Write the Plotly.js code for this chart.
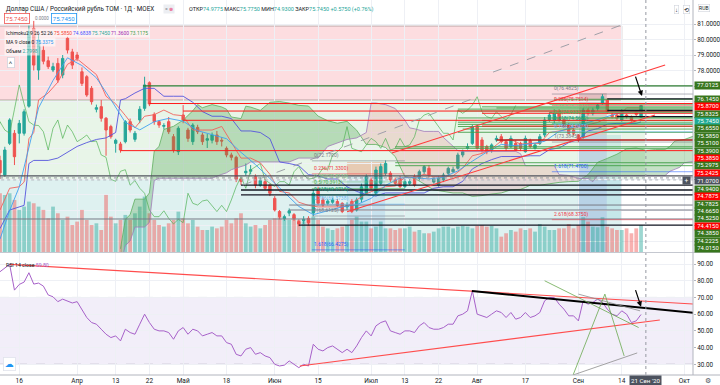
<!DOCTYPE html>
<html><head><meta charset="utf-8">
<script src="https://cdn.plot.ly/plotly-3.0.1.min.js"></script>
<style>html,body{margin:0;padding:0;background:#fff}#chart{width:720px;height:385px}</style>
</head><body><div id="chart"></div>
<script>
// ---------- DATA ----------
const openP = [72.2,71.26,73.30,73.95,73.95,73.95,75.70,80.72,78.03,79.30,
78.63,78.03,78.46,77.71,80.08,79.20,79.00,77.92,77.60,76.85,
75.50,75.67,74.92,74.38,73.30,73.26,73.41,74.70,73.56,74.81,
75.56,77.21,75.17,74.70,74.40,74.70,73.73,72.76,75.13,74.16,
73.41,74.33,73.84,73.50,73.50,73.84,73.50,72.98,72.55,72.40,
71.00,71.40,71.50,71.15,70.60,70.83,70.62,69.75,68.90,68.42,
68.80,68.70,68.25,68.30,68.46,68.80,70.33,69.65,69.43,69.50,
69.55,69.43,69.20,69.55,69.00,69.70,70.08,70.94,70.08,70.72,
71.37,71.37,70.94,71.04,70.51,70.72,71.15,71.04,71.47,71.69,
70.80,70.60,70.94,71.37,71.47,71.69,72.55,72.98,73.30,74.38,
73.52,73.09,72.87,73.52,73.73,73.41,73.09,73.30,73.30,72.76,
73.47,72.98,73.30,73.84,74.81,74.81,75.34,74.81,74.50,74.16,
73.84,73.73,75.45,75.24,75.56,75.88,76.10,75.13,75.13,74.81,
75.13,75.02,75.35,74.9775];
const highP = [72.5,73.08,74.92,74.16,74.81,75.50,80.90,81.20,80.30,79.60,
78.90,78.50,78.80,79.00,80.18,79.40,79.20,78.20,77.70,77.00,
75.80,76.10,75.00,74.50,73.60,73.40,74.80,74.90,74.10,75.70,
77.60,77.30,75.30,74.80,74.60,75.00,73.90,74.40,75.77,74.30,
74.60,74.50,74.00,73.90,74.00,74.10,73.70,73.10,72.70,72.50,
71.10,72.00,71.90,71.30,71.10,71.00,70.70,69.90,69.00,68.70,
69.10,68.80,68.40,68.60,68.60,70.30,70.50,69.80,69.70,69.80,
69.70,69.50,69.50,69.70,69.80,70.70,71.30,71.10,71.80,72.00,
72.20,71.50,71.10,71.20,71.00,71.00,71.30,71.60,71.90,71.90,
71.10,71.20,71.40,71.80,71.80,72.70,72.90,73.30,74.50,74.50,
73.70,73.20,73.30,73.80,73.90,73.50,73.80,73.50,73.40,73.80,
73.60,73.30,73.90,75.00,75.30,75.50,75.50,74.90,74.60,74.30,
73.90,75.60,75.60,75.60,75.90,76.48,76.20,75.30,75.20,75.50,
75.20,75.10,75.45,75.775];
const lowP = [71.0,71.15,73.19,71.90,73.30,73.80,75.60,78.00,77.40,78.40,
78.10,77.90,77.20,77.50,79.10,78.10,78.60,77.00,76.30,75.80,
75.30,74.70,72.50,73.60,72.70,72.70,73.30,74.00,73.40,74.60,
75.40,75.70,74.50,74.30,74.20,73.90,72.70,72.55,74.60,73.40,
73.20,73.90,73.20,73.00,73.30,73.20,73.10,72.40,72.20,70.80,
70.60,71.20,71.30,70.40,70.50,70.30,69.90,68.90,68.40,68.30,
68.60,68.30,67.95,68.10,68.00,68.60,69.30,69.20,69.30,69.40,
69.20,68.80,69.00,68.80,68.90,69.50,70.00,70.30,70.00,70.60,
71.20,70.80,70.60,70.40,70.40,70.60,70.50,70.90,71.30,71.10,
70.70,70.50,70.80,71.20,71.40,71.60,72.40,72.90,73.20,72.90,
72.70,72.60,72.70,73.40,73.30,72.80,73.00,72.80,72.80,72.70,
73.00,72.90,73.20,73.70,74.70,74.60,74.70,74.30,73.90,73.80,
73.38,73.60,75.10,75.10,75.40,75.80,75.20,74.90,74.80,74.70,
74.90,74.70,75.05,74.93];
const closeP = [71.4,72.87,74.81,72.44,74.59,75.34,80.50,78.35,79.97,78.60,
78.25,78.25,77.39,78.78,79.32,78.35,78.78,77.17,76.42,75.99,
75.60,74.92,74.16,73.73,73.50,72.87,74.70,74.16,73.95,75.50,
77.07,75.84,74.70,74.48,74.45,74.05,72.87,74.27,74.81,73.62,
74.48,74.05,73.41,73.60,73.84,73.41,73.45,72.55,72.40,70.98,
70.85,71.50,71.60,70.60,70.90,70.40,70.08,69.00,68.57,68.57,
68.95,68.46,68.10,68.40,68.18,70.08,69.43,69.32,69.58,69.65,
69.30,68.90,69.30,68.90,69.65,70.50,71.15,70.40,71.58,71.80,
72.00,70.94,70.72,70.51,70.83,70.83,70.61,71.47,71.80,71.26,
71.00,71.04,71.26,71.69,71.62,72.55,72.76,73.09,74.38,72.98,
72.87,72.76,73.20,73.62,73.41,72.98,73.62,72.87,72.98,73.62,
73.09,73.20,73.73,74.81,75.13,75.24,74.81,74.38,73.95,73.95,
73.52,75.45,75.24,75.45,75.77,76.31,75.34,75.02,74.92,75.34,
75.02,74.81,75.17,75.745];
const volumeB = [6.08,5.91,6.08,5.39,4.36,4.70,5.22,5.05,4.70,4.36,
3.49,4.70,4.01,3.32,3.66,2.80,3.15,4.36,3.32,2.80,
2.97,2.28,5.91,3.66,2.97,3.32,3.84,3.32,4.01,4.70,
5.74,4.01,3.32,2.80,2.63,2.97,3.32,4.18,3.49,2.97,
3.32,2.63,2.28,2.28,2.63,2.45,2.63,3.32,2.97,3.49,
4.01,2.97,2.63,2.80,2.45,2.80,3.32,3.49,3.66,3.32,
3.32,3.66,3.32,3.15,3.32,3.66,3.32,2.63,2.45,2.28,
2.45,2.63,2.80,3.32,3.66,3.15,3.15,2.45,2.63,3.15,
2.45,2.45,2.28,2.45,2.45,2.63,2.11,2.28,1.94,1.94,
2.11,2.45,2.63,2.63,2.45,2.63,2.70,2.63,2.45,2.70,
2.80,2.63,2.70,2.45,1.59,1.94,2.28,2.11,2.45,2.28,
2.45,2.11,2.90,2.63,2.28,2.28,2.45,2.45,2.90,2.45,
2.80,3.60,3.15,2.63,2.56,3.60,2.63,2.45,2.28,2.28,
2.45,1.94,2.45,2.80];
const rsi14 = [85.4,87.6,89.8,74.4,77.8,79.2,84.8,78.0,78.6,76.8,
71.5,70.4,67.5,69.0,68.0,66.7,67.5,62.5,58.0,55.0,
54.0,51.0,48.0,46.0,47.0,44.0,51.0,49.0,48.0,54.0,
60.0,55.0,51.0,50.0,50.0,49.0,45.0,50.0,52.0,48.0,
51.0,50.0,47.0,48.0,49.0,47.0,47.0,43.0,42.0,36.0,
35.0,39.0,40.0,36.0,37.0,35.0,34.0,30.0,29.0,29.5,
32.0,30.0,28.0,30.0,29.0,42.0,39.0,38.0,40.0,41.0,
39.0,37.0,39.0,37.0,41.0,46.0,50.0,47.0,53.0,55.0,
56.0,50.0,49.0,48.0,50.0,50.0,49.0,53.0,55.0,52.0,
51.0,51.0,52.0,54.0,54.0,59.0,60.0,62.0,74.0,60.0,
59.0,58.0,60.0,62.0,61.0,58.0,61.0,57.0,58.0,61.0,
58.0,59.0,61.0,68.0,70.0,70.0,66.0,63.0,59.0,59.0,
56.0,68.0,66.0,67.0,69.0,67.0,63.0,60.0,59.0,62.0,
60.0,55.0,56.0,59.8];

// Ichimoku / MA lines read at sample bars
const tenkanX = [0,2,4,5,6,7,8,10,12,14,16,18,20,22,24,26,28,30,32,34,36,38,40,42,44,46,48,50,52,54,56,58,60,62,64,66,68,70,72,74,76,78,80,82,84,86,88,90,92,94,96,98,100,102,104,106,108,110,112,114,116,118,120,122,124,126,128,130,132,133];
const tenkanY = [69.0,70.4,70.5,70.8,73.6,74.0,76.1,76.55,77.25,78.4,78.75,78.24,77.74,76.34,75.85,75.1,74.3,75.05,75.15,75.45,75.15,75.08,74.16,74.16,74.16,74.39,73.4,72.35,72.35,72.05,71.3,70.2,70.1,69.5,69.3,69.2,69.2,69.2,69.25,69.65,70.05,70.3,70.5,70.55,71.1,71.1,71.3,71.15,71.15,71.2,71.7,72.5,72.65,72.95,73.45,73.55,73.25,73.3,73.3,74.0,74.1,74.2,74.35,74.5,74.65,74.95,74.95,75.59,75.59,75.585];
const kijunX = [0,2,5,6,7,10,12,16,18,20,22,24,25,26,28,30,32,34,36,38,40,42,44,46,48,50,52,54,56,58,60,62,64,66,68,70,72,74,76,78,80,82,84,86,88,90,92,94,96,98,100,102,104,106,108,110,112,114,116,118,120,122,124,126,128,130,132,133];
const kijunY = [67.8,69.0,69.3,72.0,72.2,72.2,72.35,73.1,73.35,73.55,73.65,74.0,76.1,76.18,76.55,76.85,76.85,76.34,76.34,76.34,75.95,75.35,75.05,75.05,74.9,74.1,74.1,74.0,73.6,72.1,72.0,71.86,71.28,71.2,71.0,71.0,70.5,70.2,70.0,69.9,70.1,70.1,70.1,70.1,70.1,70.4,70.5,70.5,70.85,71.65,72.0,72.25,72.45,72.45,72.45,72.5,72.5,72.9,73.0,73.35,73.55,74.1,74.25,74.54,74.59,74.59,74.59,74.68];
const ma9X = [0,2,4,6,8,11,14,17,20,23,26,29,32,35,38,41,44,47,50,53,56,59,62,65,68,71,74,77,80,83,86,89,92,95,98,101,104,107,110,113,116,119,122,125,128,131,133];
const ma9Y = [67.12,68.96,70.49,73.06,75.59,77.36,78.82,78.32,77.53,76.12,74.65,74.17,74.70,74.91,74.73,74.12,73.88,73.60,72.72,71.93,71.03,70.14,69.23,68.70,68.94,69.20,69.34,69.75,70.59,71.07,71.09,71.00,71.12,71.52,72.15,72.74,73.23,73.15,73.27,73.43,74.07,74.36,74.63,74.89,75.22,75.33,75.34];
const spanX = [25,26,27,28,30,31,32,33,34,36,38,40,41,42,44,46,47,48,50,51,52,54,56,58,60,62,64,66,68,70,72,74,76,77,78,80,82,84,85,86,88,90,91,92,94,95,96,98,100,102,104,106,107,108,109,110,112,114,115,116,118,120,122,123,124,126,128,130,132,134,136,138,139,140,141,142,144];
const spanA = [66.5,68.4,68.7,69.7,69.7,70.1,72.8,73.1,74.2,74.4,74.8,75.4,75.8,75.6,75.8,75.65,75.5,75.0,74.9,75.7,75.64,75.43,75.95,76.0,75.9,75.75,75.71,75.06,74.76,74.6,74.72,74.15,73.23,73.23,73.23,73.03,72.45,71.15,71.1,71.05,70.68,70.29,70.25,70.2,70.1,70.1,70.1,69.88,69.93,70.03,70.1,70.3,70.3,70.33,70.45,70.6,70.6,70.7,70.75,70.78,70.83,70.85,71.28,71.7,72.08,72.33,72.6,72.95,73.0,72.85,72.9,72.9,73.1,73.45,73.5,73.55,73.78];
const spanB = [65.5,66.7,67.0,67.9,67.9,68.2,70.9,71.05,71.05,71.05,71.05,71.05,71.05,71.05,71.05,71.3,71.4,71.6,71.8,71.9,72.1,72.1,72.1,72.1,72.1,72.35,72.35,72.35,73.1,73.35,73.55,73.65,74.0,75.9,75.9,75.8,75.55,74.8,74.3,74.24,74.07,74.07,74.07,73.68,73.08,72.83,72.78,72.78,72.78,72.78,72.78,72.78,72.78,72.63,71.86,71.86,71.86,71.86,71.86,71.28,71.23,71.03,71.03,70.83,71.23,71.23,71.23,71.23,71.23,71.23,71.23,71.23,71.5,71.65,71.75,72.05,72.15];
const chikouShift = 26;

// time axis
const tickIdx = [4,16,24,31,38,47,57,66,77,84,91,99,109,120,129,142];
const tickLabels = ['16','Апр','13','22','Май','18','Июн','15','Июл','13','22','Авг','17','Сен','14','Окт'];
const crossIdx = 134, crossLabel = "21 Сен '20", crossPrice = 71.07;

// price / rsi scales
const priceTicks = [67,68,69,70,71,72,73,74,75,76,77,78,79,80,81];
const rsiTicks = [30,40,50,60,70,80,90];

// drawings: horizontal rays (price, start bar)
const greenRayP = [77.0125,76.145,75.8325,75.655,75.585,75.51,75.39,75.2975,74.94,74.7825,74.665,74.525,74.385,74.2225,74.015,73.08,72.98,72.05,71.86];
const greenRayX = [29.7,115,114,100,103,95,95,114,95,100,95,95,95,96,95,82,82,82,82];
const redRayP = [75.87,75.385,75.2425,74.7875,74.415,72.83];
const redRayX = [31,38,100,38,100,25];
const blackRayP = [76.17,75.42,75.02,70.61,70.29,69.97,68.03];
const blackRayX = [126,126,128,50,50,50,62];
const grayRayP = [71.2,69.32,69.0,68.42];
const grayRayX = [-1,60,60,-1];
const darkRedRayP = [73.52], darkRedRayX = [103];

// Fibonacci retracements
const fibLevels = ['0','0.236','0.382','0.5','0.618','0.786','1','1.618','2.618'];
const fibLeftP = [72.17,71.33,70.811,70.3913,69.9715,69.3738,68.6125,66.4275];
const fibRightP = [76.4825,75.7514,75.2991,74.9337,74.5682,74.0478,73.3845,71.47,68.375];
const fibLeftStart = 64.7, fibLeftEnd = 84, fibRightStart = 114.5;

// trend lines [x0,p0,x1,p1]
const trendRed = [[81.3,72.68,138,78.35],[72,68.89,135.9,75.13]];
const trendDash = [[50.4,70.61,98.5,76.23],[102.3,77.9,129,80.94]];
const rsiRed = [[2.07,89.8,143.8,66.1],[62.2,29.0,136.9,56.5]];
const rsiBlack = [[97.9,73.9,143.8,60.9]];
const rsiFan = [[113,80,132.5,52],[120,72,132.8,62],[118.9,23.6,125.5,72],[118.9,23.6,132.2,36.8],[125.5,72,129.5,35]];

// zones [x0,x1,p0,p1]
const zones = [[-1,129,76.1,80.87],[-1,133.8,70.94,76.1],[-1,129,66.0,70.94],[72,79.9,71.2,72.1],[72,79.9,66.0,71.2],[119.9,125.9,73.84,76.55],[119.9,125.9,66.0,73.84],[125.9,129,68.35,73.84]];

// right-side price labels
const rightLabels = ['77.0125','76.1450','75.8700','75.8325','75.7450','75.6550','75.5850','75.5100','75.3900','75.3850','75.2975','75.2425','74.9400','74.7875','74.7825','74.6650','74.5250','74.4150','74.3850','74.2225','74.0150'];
const rightKinds = ['g','g','r','g','c','g','g','g','g','r','g','r','g','r','g','g','g','r','g','g','g'];

// ---------- STYLE ----------
const FONT = 'Roboto, "Liberation Sans", "DejaVu Sans", sans-serif';
const GRID = '#eef0f5';
const UP = '#26a69a', DN = '#ef5350';
const zoneFill = ['rgba(242,54,69,0.17)','rgba(76,175,80,0.13)','rgba(0,150,136,0.13)','rgba(230,140,100,0.40)','rgba(90,150,230,0.16)','rgba(160,110,110,0.28)','rgba(70,120,200,0.25)','rgba(70,180,200,0.16)'];
const fibColors = ['#787b86','#f23645','#81c784','#4caf50','#089981','#64b5f6','#787b86','#2962ff','#f23645'];
const labelColors = {g:'#38761d', r:'#ff0000', c:'#22ab94'};

const idx = closeP.map((_, i) => i);
const PW = 693, PH = 375;
const pxX = x => x / PW, pxY = y => 1 - y / PH;
const yRange = [66.29, 82.55];
const priceToPx = p => (yRange[1] - p) / (yRange[1] - yRange[0]) * 252;

const traces = [];
traces.push({type:'bar', x: idx, y: volumeB, xaxis:'x', yaxis:'y', width:0.78,
  marker:{color: idx.map(i => closeP[i] >= openP[i] ? 'rgba(38,166,154,0.45)' : 'rgba(239,83,80,0.45)'), line:{width:0}},
  hoverinfo:'skip'});

function cloudPolys(xs, a, b) {
  const out = []; let cur = null, sign = null;
  for (let k = 0; k < xs.length; k++) {
    const s = a[k] >= b[k] ? 1 : -1;
    if (cur && s !== sign) {
      const d0 = a[k-1]-b[k-1], d1 = a[k]-b[k];
      const t = d0/(d0-d1);
      const xc = xs[k-1] + t*(xs[k]-xs[k-1]);
      const yc = a[k-1] + t*(a[k]-a[k-1]);
      cur.x.push(xc); cur.a.push(yc); cur.b.push(yc);
      out.push({sign, x:cur.x, a:cur.a, b:cur.b});
      cur = {x:[xc], a:[yc], b:[yc]};
    }
    if (!cur) cur = {x:[], a:[], b:[]};
    cur.x.push(xs[k]); cur.a.push(a[k]); cur.b.push(b[k]);
    sign = s;
  }
  out.push({sign, x:cur.x, a:cur.a, b:cur.b});
  return out;
}
cloudPolys(spanX, spanA, spanB).forEach(pl => {
  traces.push({type:'scatter', mode:'lines', xaxis:'x', yaxis:'y3',
    x: pl.x.concat(pl.x.slice().reverse()), y: pl.a.concat(pl.b.slice().reverse()),
    fill:'toself', fillcolor: pl.sign > 0 ? 'rgba(67,160,71,0.30)' : 'rgba(239,83,80,0.16)',
    line:{width:0}, hoverinfo:'skip'});
});

traces.push({type:'candlestick', x: idx, open: openP, high: highP, low: lowP, close: closeP,
  xaxis:'x', yaxis:'y3', whiskerwidth:0,
  increasing:{line:{color:UP, width:1}, fillcolor:UP},
  decreasing:{line:{color:DN, width:1}, fillcolor:DN}, hoverinfo:'skip'});

traces.push({type:'scatter', mode:'lines', xaxis:'x', yaxis:'y3', x: idx.map(i => i - chikouShift), y: closeP, line:{color:'#4caf50', width:0.8}, opacity:0.85, hoverinfo:'skip'});
traces.push({type:'scatter', mode:'lines', xaxis:'x', yaxis:'y3', x: spanX, y: spanA, line:{color:'#5fae5f', width:0.8}, hoverinfo:'skip'});
traces.push({type:'scatter', mode:'lines', xaxis:'x', yaxis:'y3', x: spanX, y: spanB, line:{color:'#a17bb9', width:0.8}, hoverinfo:'skip'});
traces.push({type:'scatter', mode:'lines', xaxis:'x', yaxis:'y3', x: tenkanX, y: tenkanY, line:{color:'#f0625d', width:0.9}, hoverinfo:'skip'});
traces.push({type:'scatter', mode:'lines', xaxis:'x', yaxis:'y3', x: kijunX, y: kijunY, line:{color:'#5555dd', width:0.9}, hoverinfo:'skip'});
traces.push({type:'scatter', mode:'lines', xaxis:'x', yaxis:'y3', x: ma9X, y: ma9Y, line:{color:'#3fa0f0', width:0.9}, hoverinfo:'skip'});

traces.push({type:'scatter', mode:'lines', xaxis:'x2', yaxis:'y2', x: idx, y: rsi14, line:{color:'#a761c9', width:1}, hoverinfo:'skip'});

// ---------- SHAPES ----------
const shapes = [];
zones.forEach((z, k) => shapes.push({type:'rect', xref:'x', yref:'y3', x0:z[0], x1:z[1], y0:z[2], y1:z[3],
  fillcolor: zoneFill[k], line:{width: k === 0 ? 1 : 0, color:'rgba(150,130,130,0.6)'}, layer:'below'}));
shapes.push({type:'rect', xref:'paper', yref:'y2', x0:0, x1:1, y0:30, y1:70, fillcolor:'rgba(126,87,194,0.10)', line:{width:0}, layer:'below'});
[70,30].forEach(v => shapes.push({type:'line', xref:'paper', yref:'y2', x0:0, x1:1, y0:v, y1:v, line:{color:'#9598a1', width:0.8, dash:'dash'}, layer:'below'}));

function ray(p, x0, color, width, dash) {
  shapes.push({type:'line', xref:'x', yref:'y3', x0:x0, x1:150, y0:p, y1:p, line:{color, width, dash: dash || 'solid'}, layer:'above'});
}
grayRayP.forEach((p, k) => ray(p, grayRayX[k], k === 0 ? '#50535e' : '#787b86', k === 0 ? 1.3 : 1));
ray(70.94, -1, '#b2b5be', 1, 'dot');
greenRayP.forEach((p, k) => ray(p, greenRayX[k], k === 0 ? '#2e7d32' : '#43a047', k === 0 ? 1.3 : 0.9));
redRayP.forEach((p, k) => ray(p, redRayX[k], '#ff1a1a', 1));
blackRayP.forEach((p, k) => ray(p, blackRayX[k], '#131722', 1.3));
darkRedRayP.forEach((p, k) => ray(p, darkRedRayX[k], '#b71c1c', 1.6));
fibLeftP.forEach((p, k) => shapes.push({type:'line', xref:'x', yref:'y3', x0:fibLeftStart, x1:fibLeftEnd, y0:p, y1:p, line:{color:fibColors[k], width:0.8}, opacity:0.7, layer:'above'}));
fibRightP.forEach((p, k) => shapes.push({type:'line', xref:'x', yref:'y3', x0:fibRightStart, x1:150, y0:p, y1:p, line:{color:fibColors[k], width:0.8}, opacity:0.7, layer:'above'}));

trendRed.forEach(t => shapes.push({type:'line', xref:'x', yref:'y3', x0:t[0], y0:t[1], x1:t[2], y1:t[3], line:{color:'#ff3b3b', width:1.1}, layer:'above'}));
trendDash.forEach(t => shapes.push({type:'line', xref:'x', yref:'y3', x0:t[0], y0:t[1], x1:t[2], y1:t[3], line:{color:'#9598a1', width:0.9, dash:'dash'}, layer:'above'}));
rsiRed.forEach(t => shapes.push({type:'line', xref:'x2', yref:'y2', x0:t[0], y0:t[1], x1:t[2], y1:t[3], line:{color:'#ff4d4d', width:1.1}, layer:'above'}));
rsiBlack.forEach(t => shapes.push({type:'line', xref:'x2', yref:'y2', x0:t[0], y0:t[1], x1:t[2], y1:t[3], line:{color:'#000000', width:2}, layer:'above'}));
rsiFan.forEach((t, k) => shapes.push({type:'line', xref:'x2', yref:'y2', x0:t[0], y0:t[1], x1:t[2], y1:t[3], line:{color: k % 2 ? '#8d8d8d' : '#6aa84f', width:0.8}, layer:'above'}));

shapes.push({type:'line', xref:'x', yref:'paper', x0:crossIdx, x1:crossIdx, y0:0, y1:1, line:{color:'#9598a1', width:1, dash:'dot'}, layer:'above'});
shapes.push({type:'line', xref:'paper', yref:'y3', x0:0, x1:1, y0:crossPrice, y1:crossPrice, line:{color:'#9598a1', width:1, dash:'dot'}, layer:'above'});
shapes.push({type:'line', xref:'paper', yref:'paper', x0:0, x1:720/PW, y0:pxY(252.5), y1:pxY(252.5), line:{color:'#c5c8d0', width:1}});
shapes.push({type:'line', xref:'paper', yref:'paper', x0:1, x1:1, y0:0, y1:1, line:{color:'#b2b5be', width:1}});
shapes.push({type:'line', xref:'paper', yref:'paper', x0:0, x1:720/PW, y0:0, y1:0, line:{color:'#b2b5be', width:1}});

// ---------- ANNOTATIONS ----------
const ann = [];
function txt(x, y, text, size, color, extra) {
  ann.push(Object.assign({xref:'paper', yref:'paper', x:pxX(x), y:pxY(y), text, showarrow:false,
    xanchor:'left', yanchor:'middle', font:{family:FONT, size, color: color || '#131722'}}, extra || {}));
}
const c = (col, s) => `<span style="color:${col}">${s}</span>`;
txt(4, 9, 'Доллар США / Российский рубль TOM · 1Д · MOEX', 6.3);
txt(163, 9, c('#787b86','=') + ' ' + c('#e91e63','⊗'), 5, '#131722', {bgcolor:'#eceef2', borderpad:1});
txt(187, 9, 'ОТКР' + c(UP,'74.9775') + ' МАКС' + c(UP,'75.7750') + ' МИН' + c(UP,'74.9300') + ' ЗАКР' + c(UP,'75.7450') + ' ' + c(UP,'+0.5750 (+0.76%)'), 5.5);
txt(4, 18.5, '75.7450', 6, '#ef5350', {bgcolor:'#ffffff', bordercolor:'#ef5350', borderwidth:0.8, borderpad:1});
txt(33, 18.5, '0.0000', 4.5, '#787b86');
txt(51, 18.5, '75.7450', 6, '#2196f3', {bgcolor:'#ffffff', bordercolor:'#2196f3', borderwidth:0.8, borderpad:1});
txt(4, 32.5, 'Ichimoku2 9 26 52 26 ' + c('#f44336','75.5850') + ' ' + c('#3f51ff','74.6838') + ' ' + c('#26a69a','75.7450') + ' ' + c('#9c27b0','71.3600') + ' ' + c('#43a047','73.1175'), 4.9, '#131722', {bgcolor:'rgba(255,255,255,0.55)'});
txt(4, 42, 'MA 9 close 0 ' + c('#2196f3','75.3375'), 4.9, '#131722', {bgcolor:'rgba(255,255,255,0.55)'});
txt(4, 51.5, 'Объем ' + c(UP,'2.7998'), 4.9, '#131722', {bgcolor:'rgba(255,255,255,0.55)'});
txt(7, 62.5, '˄', 6, '#131722', {bgcolor:'#ffffff', bordercolor:'#d1d4dc', borderwidth:0.8, borderpad:1});
txt(4, 265, 'RSI 14 close ' + c('#a761c9','59.80'), 5.2);
txt(674, 9, '↓', 6, '#131722', {bgcolor:'#ffffff', bordercolor:'#d1d4dc', borderwidth:0.6, borderpad:0.5});
txt(683, 9, '⟲', 6, '#131722', {bgcolor:'#ffffff', bordercolor:'#d1d4dc', borderwidth:0.6, borderpad:0.5});
txt(698, 8, 'RUB', 5, '#131722', {bgcolor:'#ffffff', bordercolor:'#d1d4dc', borderwidth:0.6, borderpad:0.5});
txt(3, 364, '☁', 9, '#2196f3', {bgcolor:'#ffffff', bordercolor:'#e0e3eb', borderwidth:0.8, borderpad:1});
txt(703, 380.5, '⚙', 7, '#50535e');

fibLeftP.forEach((p, k) => ann.push({xref:'x', yref:'y3', x:fibLeftStart, y:p, xanchor:'left', yanchor:'bottom', showarrow:false,
  text:`${fibLevels[k]}(${p.toFixed(4)})`, font:{family:FONT, size:5, color:fibColors[k]}}));
fibRightP.forEach((p, k) => ann.push({xref:'x', yref:'y3', x:fibRightStart, y:p, xanchor:'left', yanchor:'bottom', showarrow:false,
  text:`${fibLevels[k]}(${p.toFixed(4)})`, font:{family:FONT, size:5, color:fibColors[k]}}));

ann.push({xref:'x', yref:'y3', x:133.2, y:76.35, ax:-7, ay:-21, showarrow:true, arrowhead:2, arrowsize:0.9, arrowwidth:1.2, arrowcolor:'#000', text:''});
ann.push({xref:'x2', yref:'y2', x:133.0, y:64.5, ax:-6, ay:-18, showarrow:true, arrowhead:2, arrowsize:0.9, arrowwidth:1.2, arrowcolor:'#000', text:''});

// right price labels, stacked like the price scale does
const crossY = priceToPx(crossPrice) + 3;
let prev = -99;
rightLabels.forEach((t, k) => {
  let y = Math.max(priceToPx(parseFloat(t)), prev + 7.4);
  if (k === 12) y = crossY + 8.4;
  prev = y;
  ann.push({xref:'paper', yref:'paper', x:1.001, y:pxY(y), xanchor:'left', yanchor:'middle', showarrow:false,
    text:t, width:26, height:6.9, align:'center', bgcolor: labelColors[rightKinds[k]], borderpad:0,
    font:{family:FONT, size:5.9, color:'#ffffff'}});
});
ann.push({xref:'paper', yref:'paper', x:1.001, y:pxY(crossY), xanchor:'left', yanchor:'middle', showarrow:false,
  text:crossPrice.toFixed(4), width:26, height:7.4, align:'center', bgcolor:'#4c525e', borderpad:0, font:{family:FONT, size:5.9, color:'#ffffff'}});
ann.push({xref:'paper', yref:'paper', x:pxX(686), y:pxY(crossY), xanchor:'center', yanchor:'middle', showarrow:false,
  text:'+', width:7, height:7.4, bgcolor:'#4c525e', borderpad:0, font:{family:FONT, size:6.5, color:'#ffffff'}});
ann.push({xref:'x', yref:'paper', x:crossIdx, y:pxY(380.5), xanchor:'center', yanchor:'middle', showarrow:false,
  text:crossLabel, bgcolor:'#4c525e', borderpad:1, font:{family:FONT, size:6.2, color:'#ffffff'}});

const layout = {
  width:720, height:385, margin:{l:0, r:27, t:0, b:10, pad:0},
  paper_bgcolor:'#ffffff', plot_bgcolor:'#ffffff', showlegend:false, hovermode:false, dragmode:false,
  font:{family:FONT, size:7, color:'#131722'},
  xaxis:{domain:[0,1], anchor:'y', range:[0,143.78], showticklabels:false, tickvals:tickIdx, showgrid:true, gridcolor:GRID,
    zeroline:false, ticks:'', rangeslider:{visible:false}, fixedrange:true},
  xaxis2:{domain:[0,1], anchor:'y2', matches:'x', tickvals:tickIdx, ticktext:tickLabels, showgrid:true, gridcolor:GRID,
    zeroline:false, ticks:'', tickfont:{family:FONT, size:6.5, color:'#131722'}, fixedrange:true},
  yaxis:{domain:[0.328,1], anchor:'x', range:[0,26.1], visible:false, fixedrange:true},
  yaxis3:{overlaying:'y', anchor:'x', side:'right', range:yRange, tickvals:priceTicks,
    ticktext: priceTicks.map(v => v >= 78 ? v.toFixed(4) : ''), showgrid:true, gridcolor:GRID, zeroline:false,
    ticks:'outside', ticklen:2, tickcolor:'#b2b5be', tickfont:{family:FONT, size:6.3, color:'#131722'}, fixedrange:true, automargin:false},
  yaxis2:{domain:[0,0.3253], anchor:'x2', side:'right', range:[23.6,96.6], tickvals:rsiTicks,
    ticktext: rsiTicks.map(v => v.toFixed(2)), showgrid:true, gridcolor:GRID, zeroline:false,
    ticks:'outside', ticklen:2, tickcolor:'#b2b5be', tickfont:{family:FONT, size:6.3, color:'#131722'}, fixedrange:true, automargin:false},
  shapes, annotations: ann
};
Plotly.newPlot('chart', traces, layout, {staticPlot:true, displayModeBar:false});
</script>
</body></html>
